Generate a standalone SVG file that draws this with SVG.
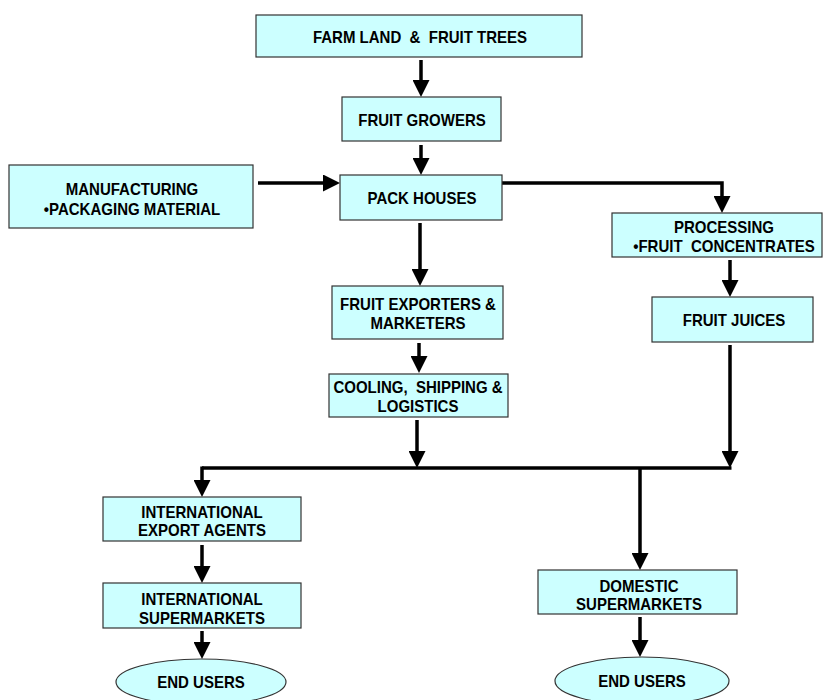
<svg xmlns="http://www.w3.org/2000/svg" width="824" height="700" viewBox="0 0 824 700">
  <style>
    .box { fill: #ccffff; stroke: #333333; stroke-width: 1.2; }
    .lbl { font-family: "Liberation Sans", Arial, sans-serif; font-weight: bold; font-size: 16.5px; fill: #000000; text-anchor: middle; white-space: pre; }
    .flow { fill: none; stroke: #000000; stroke-width: 3.5; marker-end: url(#head); }
    .plain { fill: none; stroke: #000000; stroke-width: 3.5; }
  </style>
  <defs>
    <marker id="head" markerUnits="userSpaceOnUse" markerWidth="17" markerHeight="17" viewBox="0 0 17 17" refX="2" refY="8.5" orient="auto">
      <path d="M0,0 L17,8.5 L0,17 z" fill="#000000"/>
    </marker>
  </defs>
  <rect width="824" height="700" fill="#ffffff"/>

  <!-- connectors -->
  <g id="connectors">
    <path class="flow" d="M421,60 V82"/>
    <path class="flow" d="M421,145 V160"/>
    <path class="flow" d="M258,183 H325"/>
    <path class="flow" d="M502,183 H722 V198"/>
    <path class="flow" d="M420,223 V271"/>
    <path class="flow" d="M730,260 V282"/>
    <path class="flow" d="M419,343 V358"/>
    <path class="flow" d="M417,420 V453"/>
    <path class="flow" d="M730,345 V453"/>
    <path class="plain" d="M731.5,468 H202"/>
    <path class="flow" d="M202,466.5 V482"/>
    <path class="flow" d="M640,468 V555"/>
    <path class="flow" d="M202,545 V568"/>
    <path class="flow" d="M202,631 V644"/>
    <path class="flow" d="M640,617 V642"/>
  </g>

  <!-- labels are drawn slightly condensed: translate to anchor, then scale x -->
  <g id="farm-land">
    <rect class="box" x="256" y="15" width="326" height="42"/>
    <text class="lbl" transform="translate(420 43) scale(0.91 1)">FARM LAND  &amp;  FRUIT TREES</text>
  </g>

  <g id="fruit-growers">
    <rect class="box" x="342" y="97" width="159" height="44"/>
    <text class="lbl" transform="translate(422 126) scale(0.91 1)">FRUIT GROWERS</text>
  </g>

  <g id="manufacturing">
    <rect class="box" x="9" y="165" width="244" height="63"/>
    <text class="lbl" transform="translate(132 195) scale(0.91 1)">MANUFACTURING</text>
    <text class="lbl" transform="translate(132 215) scale(0.91 1)">•PACKAGING MATERIAL</text>
  </g>

  <g id="pack-houses">
    <rect class="box" x="340" y="175" width="162" height="45"/>
    <text class="lbl" transform="translate(422 204) scale(0.91 1)">PACK HOUSES</text>
  </g>

  <g id="processing">
    <rect class="box" x="612" y="213" width="210" height="44"/>
    <text class="lbl" transform="translate(724 233) scale(0.91 1)">PROCESSING</text>
    <text class="lbl" transform="translate(724 252) scale(0.91 1)">•FRUIT  CONCENTRATES</text>
  </g>

  <g id="fruit-juices">
    <rect class="box" x="652" y="297" width="161" height="45"/>
    <text class="lbl" transform="translate(734 326) scale(0.91 1)">FRUIT JUICES</text>
  </g>

  <g id="fruit-exporters">
    <rect class="box" x="332" y="286" width="171" height="53"/>
    <text class="lbl" transform="translate(418 310) scale(0.91 1)">FRUIT EXPORTERS &amp;</text>
    <text class="lbl" transform="translate(418 329) scale(0.91 1)">MARKETERS</text>
  </g>

  <g id="cooling-shipping">
    <rect class="box" x="329" y="374" width="179" height="43"/>
    <text class="lbl" transform="translate(418 393) scale(0.91 1)">COOLING,  SHIPPING &amp;</text>
    <text class="lbl" transform="translate(418 412) scale(0.91 1)">LOGISTICS</text>
  </g>

  <g id="intl-export-agents">
    <rect class="box" x="103" y="497" width="198" height="44"/>
    <text class="lbl" transform="translate(202 518) scale(0.91 1)">INTERNATIONAL</text>
    <text class="lbl" transform="translate(202 536) scale(0.91 1)">EXPORT AGENTS</text>
  </g>

  <g id="intl-supermarkets">
    <rect class="box" x="103" y="583" width="198" height="45"/>
    <text class="lbl" transform="translate(202 605) scale(0.91 1)">INTERNATIONAL</text>
    <text class="lbl" transform="translate(202 624) scale(0.91 1)">SUPERMARKETS</text>
  </g>

  <g id="domestic-supermarkets">
    <rect class="box" x="538" y="570" width="199" height="44"/>
    <text class="lbl" transform="translate(639 592) scale(0.91 1)">DOMESTIC</text>
    <text class="lbl" transform="translate(639 610) scale(0.91 1)">SUPERMARKETS</text>
  </g>

  <g id="end-users-intl">
    <ellipse class="box" cx="201" cy="682" rx="85" ry="23"/>
    <text class="lbl" transform="translate(201 688) scale(0.91 1)">END USERS</text>
  </g>

  <g id="end-users-domestic">
    <ellipse class="box" cx="642" cy="681" rx="87" ry="24"/>
    <text class="lbl" transform="translate(642 687) scale(0.91 1)">END USERS</text>
  </g>
</svg>
